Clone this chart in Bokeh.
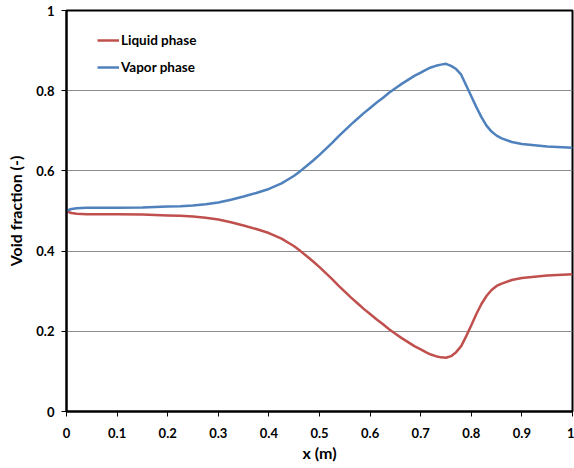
from bokeh.plotting import figure
from bokeh.models import Range1d, FixedTicker, Legend, LegendItem
from bokeh.embed import file_html
from bokeh.resources import INLINE

# ---- data ----
x_pos = [0, 0.005, 0.01, 0.02, 0.04, 0.1, 0.15, 0.2, 0.225, 0.25, 0.275, 0.3, 0.325,
         0.35, 0.375, 0.4, 0.425, 0.45, 0.4625, 0.475, 0.4875, 0.5, 0.5125, 0.525,
         0.5375, 0.55, 0.5625, 0.575, 0.5875, 0.6, 0.6125, 0.625, 0.6375, 0.65,
         0.6625, 0.675, 0.6875, 0.70, 0.71, 0.72, 0.73, 0.74, 0.75, 0.76, 0.77,
         0.78, 0.79, 0.80, 0.81, 0.82, 0.83, 0.84, 0.85, 0.86, 0.88, 0.9, 0.95, 1.0]
vapor = [0.500, 0.503, 0.505, 0.507, 0.508, 0.508, 0.509, 0.511, 0.512, 0.514,
         0.517, 0.521, 0.528, 0.536, 0.545, 0.555, 0.569, 0.588, 0.600, 0.613,
         0.626, 0.640, 0.655, 0.670, 0.686, 0.701, 0.716, 0.730, 0.744, 0.757,
         0.770, 0.782, 0.795, 0.806, 0.817, 0.827, 0.837, 0.845, 0.852, 0.858,
         0.862, 0.865, 0.867, 0.862, 0.854, 0.840, 0.813, 0.786, 0.759, 0.734,
         0.713, 0.698, 0.688, 0.681, 0.672, 0.667, 0.661, 0.658]
liquid = [0.500, 0.497, 0.495, 0.493, 0.492, 0.492, 0.491, 0.489, 0.488, 0.486,
          0.483, 0.479, 0.472, 0.464, 0.455, 0.445, 0.431, 0.412, 0.400, 0.387,
          0.374, 0.360, 0.345, 0.330, 0.314, 0.299, 0.284, 0.270, 0.256, 0.243,
          0.230, 0.218, 0.205, 0.194, 0.183, 0.173, 0.163, 0.155, 0.148, 0.142,
          0.138, 0.135, 0.134, 0.138, 0.148, 0.163, 0.188, 0.215, 0.243, 0.268,
          0.288, 0.303, 0.313, 0.319, 0.328, 0.333, 0.339, 0.342]

x_ticks = [0, 0.1, 0.2, 0.3, 0.4, 0.5, 0.6, 0.7, 0.8, 0.9, 1.0]
x_tick_labels = ["0", "0.1", "0.2", "0.3", "0.4", "0.5", "0.6", "0.7", "0.8", "0.9", "1"]
y_ticks = [0, 0.2, 0.4, 0.6, 0.8, 1.0]
y_tick_labels = ["0", "0.2", "0.4", "0.6", "0.8", "1"]

series_names = ["Liquid phase", "Vapor phase"]
LIQ_COLOR = "#C0504D"
VAP_COLOR = "#4F81BD"
FONT = "Lato"

p = figure(width=574, height=468, output_backend="svg", toolbar_location=None,
           x_range=Range1d(0, 1), y_range=Range1d(0, 1),
           min_border_left=66, min_border_right=2, min_border_top=10,
           min_border_bottom=57)

p.background_fill_color = "white"
p.border_fill_color = "white"
p.outline_line_color = "black"
p.outline_line_width = 2

r_liq = p.line(x_pos, liquid, line_color=LIQ_COLOR, line_width=2.5)
r_vap = p.line(x_pos, vapor, line_color=VAP_COLOR, line_width=2.5)

# axes
p.xaxis.ticker = FixedTicker(ticks=x_ticks)
p.yaxis.ticker = FixedTicker(ticks=y_ticks)
p.xaxis.major_label_overrides = {t: l for t, l in zip(x_ticks, x_tick_labels)}
p.yaxis.major_label_overrides = {t: l for t, l in zip(y_ticks, y_tick_labels)}
for ax in (p.xaxis, p.yaxis):
    ax.axis_line_color = "black"
    ax.axis_line_width = 2
    ax.major_tick_line_color = "black"
    ax.major_tick_line_width = 1
    ax.major_tick_in = 0
    ax.major_tick_out = 5
    ax.minor_tick_line_color = None
    ax.major_label_text_font = FONT
    ax.major_label_text_font_style = "bold"
    ax.major_label_text_font_size = "13px"
    ax.major_label_text_color = "black"
    ax.axis_label_text_font = FONT
    ax.axis_label_text_font_style = "bold"
    ax.axis_label_text_font_size = "16px"
    ax.axis_label_text_color = "black"

p.xaxis.axis_label = "x (m)"
p.yaxis.axis_label = "Void fraction (-)"
p.xaxis.major_label_standoff = 11
p.yaxis.major_label_standoff = 7
p.xaxis.axis_label_standoff = 2
p.yaxis.axis_label_standoff = 8

# grid
p.xgrid.grid_line_color = None
p.ygrid.ticker = FixedTicker(ticks=y_ticks)
p.ygrid.grid_line_color = "#8c8c8c"
p.ygrid.grid_line_width = 1

# legend
legend = Legend(items=[LegendItem(label=series_names[0], renderers=[r_liq]),
                       LegendItem(label=series_names[1], renderers=[r_vap])],
                location=(31, 336))
legend.background_fill_alpha = 0
legend.border_line_color = None
legend.padding = 0
legend.margin = 0
legend.spacing = 11
legend.glyph_width = 22
legend.glyph_height = 14
legend.label_height = 14
legend.label_standoff = 2
legend.label_text_font = FONT
legend.label_text_font_style = "bold"
legend.label_text_font_size = "13.5px"
legend.label_text_color = "black"
p.add_layout(legend)

open("out.html", "w").write(file_html(p, INLINE))
